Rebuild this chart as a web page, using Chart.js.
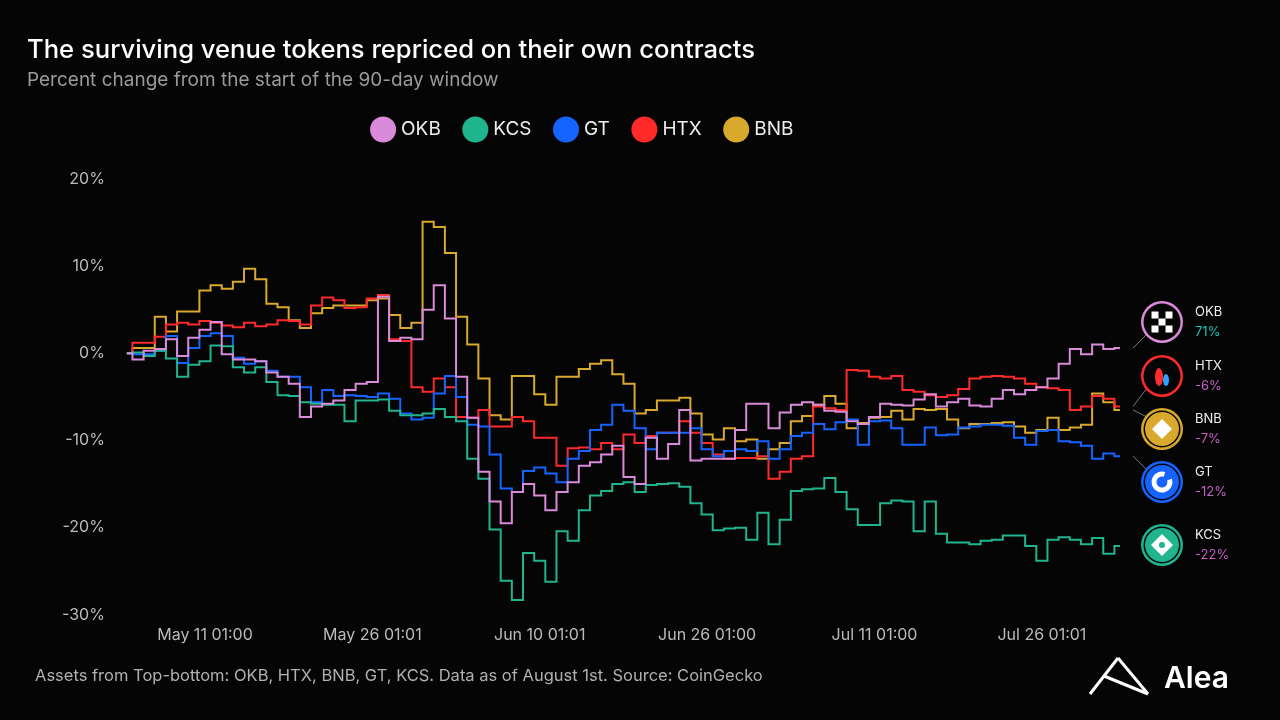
<!DOCTYPE html>
<html>
<head>
<meta charset="utf-8">
<script src="https://cdn.jsdelivr.net/npm/chart.js@4"></script>
<style>
  body { margin: 0; background: #050505; }
  #wrap { width: 1280px; height: 720px; }
</style>
</head>
<body>
<div id="wrap"><canvas id="myChart" width="1280" height="720"></canvas></div>
<script>
// daily points, day 0 ~ May 3
const tickLabels = { 7: 'May 11 01:00', 22: 'May 26 01:01', 37: 'Jun 10 01:01', 52: 'Jun 26 01:00', 67: 'Jul 11 01:00', 82: 'Jul 26 01:01' };
const yTicks = [20, 10, 0, -10, -20, -30];

const okb = [0,-0.7,0.3,0.5,1.6,-0.3,1.8,2.7,3.6,-0.1,-0.7,-0.7,-0.9,-2.2,-2.7,-3.5,-7.3,-6.1,-5.8,-5.4,-4.2,-3.5,-3.3,6.5,1.4,1.8,1.6,5.0,7.8,4.0,-2.7,-7.4,-13.6,-17.0,-19.5,-15.9,-15.0,-16.3,-18.0,
  -15.9,-14.8,-12.9,-12.5,-11.6,-10.6,-14.2,-15.0,-9.7,-12.1,-10.4,-6.5,-12.3,-12.1,-12.1,-12.1,-8.8,-5.8,-5.8,-8.6,-6.8,-5.9,-5.6,-5.9,-6.6,-6.7,-7.8,-8.1,-7.3,-5.8,-5.9,-6.0,-5.3,-4.7,-6.1,-5.6,-5.2,-6.0,-6.1,-5.2,-4.2,-4.7,-4.2,-3.9,-2.9,-1.2,0.5,-0.1,1.0,0.5,0.6];
const kcs = [0,0.1,-0.3,0.3,-0.6,-2.7,-1.3,-0.9,0.9,0.8,-1.6,-2.2,-1.6,-3.3,-4.8,-4.9,-5.6,-5.8,-5.9,-5.9,-7.8,-5.4,-5.4,-5.3,-6.6,-7.1,-7.1,-6.9,-6.4,-7.3,-7.8,-12.1,-14.4,-20.2,-26.1,-28.3,-22.9,-23.8,-26.2,
  -20.4,-21.5,-18.0,-16.3,-15.8,-15.0,-14.8,-15.9,-15.1,-15.0,-14.9,-15.3,-17.2,-18.5,-20.3,-20.1,-20.0,-21.4,-18.3,-21.9,-19.1,-15.8,-15.6,-15.5,-14.3,-15.9,-17.9,-19.7,-19.7,-17.2,-16.9,-17.0,-20.4,-17.0,-20.7,-21.7,-21.7,-21.9,-21.5,-21.4,-20.9,-20.9,-22.1,-23.8,-21.4,-21.1,-21.4,-21.9,-21.2,-23.0,-22.1];
const gt = [0,-0.1,-0.1,0.3,2.0,-1.1,0.6,2.0,2.3,2.0,-0.5,-1.2,-0.9,-2.0,-2.7,-2.7,-3.9,-5.6,-4.2,-4.9,-4.8,-4.9,-5.0,-4.6,-5.2,-6.9,-7.6,-7.4,-4.6,-2.6,-5.0,-8.2,-8.4,-11.6,-15.5,-15.9,-13.5,-13.1,-13.8,
  -14.8,-12.1,-11.2,-8.8,-8.2,-5.9,-6.6,-8.6,-11.0,-9.1,-9.1,-9.1,-8.6,-11.0,-11.8,-11.2,-11.0,-11.2,-10.1,-12.1,-11.0,-9.5,-9.1,-8.1,-8.7,-7.9,-7.6,-10.5,-7.8,-7.7,-8.6,-10.5,-10.5,-8.5,-9.4,-9.3,-8.5,-8.4,-8.2,-8.2,-8.3,-9.7,-10.5,-8.9,-8.8,-10.1,-10.2,-10.6,-12.1,-11.5,-11.8];
const htx = [0,1.2,1.2,1.9,3.3,3.5,3.3,3.7,3.5,3.2,3.0,3.5,3.1,3.3,3.8,3.7,3.3,5.5,6.4,6.1,5.2,5.3,6.3,6.7,1.6,1.4,-3.9,-4.4,-2.9,-3.9,-7.3,-7.4,-6.5,-8.4,-8.4,-7.3,-7.8,-9.7,-9.7,
  -12.9,-10.9,-10.8,-11.0,-10.3,-11.0,-9.3,-10.3,-9.5,-9.1,-9.1,-7.8,-9.1,-10.3,-11.6,-12.1,-12.0,-12.0,-11.8,-14.4,-13.6,-12.1,-11.8,-6.1,-6.3,-6.5,-1.9,-2.0,-2.7,-2.9,-2.6,-4.2,-4.4,-4.8,-5.0,-4.8,-4.1,-2.9,-2.7,-2.6,-2.7,-2.9,-3.5,-3.9,-4.0,-4.2,-6.5,-6.1,-4.9,-5.2,-6.1];
const bnb = [0,0.6,0.6,4.2,2.5,4.8,4.8,7.2,7.8,7.4,8.2,9.7,8.5,5.7,5.3,3.8,2.9,4.6,5.2,5.5,5.5,5.5,6.1,6.3,4.4,2.9,3.5,15.1,14.5,11.5,4.2,1.0,-2.9,-7.1,-7.6,-2.6,-2.6,-4.7,-5.9,
  -2.7,-2.7,-1.8,-1.2,-0.8,-2.4,-3.5,-6.9,-6.5,-5.4,-5.4,-5.1,-6.9,-9.3,-9.9,-8.6,-10.1,-9.9,-12.1,-11.0,-10.3,-7.8,-7.2,-5.9,-4.9,-5.8,-8.6,-8.0,-7.4,-7.3,-6.6,-7.6,-6.4,-6.5,-6.4,-7.6,-8.6,-8.1,-8.1,-8.0,-7.9,-8.4,-9.1,-8.8,-7.4,-8.8,-8.5,-8.2,-4.6,-5.6,-6.5];

const labels = okb.map((v, i) => tickLabels[i] || '');

// right-hand badges, top to bottom
const badges = [
  { name: 'OKB', value: '71%', key: 0, color: '#d98ad9', valColor: '#19c3b8', y: 322 },
  { name: 'HTX', value: '-6%', key: 3, color: '#ff2a2a', valColor: '#c660c6', y: 376 },
  { name: 'BNB', value: '-7%', key: 4, color: '#d9a92e', valColor: '#c660c6', y: 429 },
  { name: 'GT', value: '-12%', key: 2, color: '#1664ff', valColor: '#c660c6', y: 482 },
  { name: 'KCS', value: '-22%', key: 1, color: '#20b48f', valColor: '#c660c6', y: 545 }
];

const ds = (label, data, color) => ({
  label, data, borderColor: color, backgroundColor: color,
  borderWidth: 2, pointRadius: 0, stepped: 'middle', tension: 0
});

// extra space under the legend
const legendGap = {
  id: 'legendGap',
  beforeInit(chart) {
    const fit = chart.legend.fit;
    chart.legend.fit = function () { fit.call(this); this.height += 30; };
  }
};

const decor = {
  id: 'decor',
  afterDraw(chart) {
    const c = chart.ctx;
    c.save();
    c.textBaseline = 'alphabetic';
    c.fillStyle = '#ffffff';
    c.font = '500 25.6px Inter';
    c.fillText('The surviving venue tokens repriced on their own contracts', 27, 58);
    c.fillStyle = '#9a9a9a';
    c.font = '19px Inter';
    c.fillText('Percent change from the start of the 90-day window', 27, 86);
    c.fillStyle = '#b0b0b0';
    c.font = '16.5px Inter';
    c.fillText('Assets from Top-bottom: OKB, HTX, BNB, GT, KCS. Data as of August 1st. Source: CoinGecko', 35, 681);
    // logo
    c.strokeStyle = '#fff';
    c.lineWidth = 3;
    c.beginPath();
    c.moveTo(1090, 694); c.lineTo(1118, 658);
    c.moveTo(1104, 676); c.lineTo(1148, 694);
    c.moveTo(1118, 658); c.lineTo(1148, 694);
    c.stroke();
    c.fillStyle = '#fff';
    c.font = '600 30px Inter';
    c.fillText('Alea', 1164, 688);
    // badges
    const last = okb.length - 1;
    const ys = chart.scales.y;
    badges.forEach(b => {
      const cx = 1162, cy = b.y;
      const ly = ys.getPixelForValue(chart.data.datasets[b.key].data[last]);
      if (b.name !== 'KCS') {
        c.strokeStyle = '#777';
        c.lineWidth = 1;
        c.beginPath();
        c.moveTo(1133, ly);
        c.lineTo(1147, cy + (ly < cy ? -12 : 12));
        c.stroke();
      }
      c.beginPath();
      c.arc(cx, cy, 21, 0, Math.PI * 2);
      c.fillStyle = b.color; c.fill();
      c.beginPath();
      c.arc(cx, cy, 18.5, 0, Math.PI * 2);
      c.fillStyle = '#050505'; c.fill();
      c.beginPath();
      c.arc(cx, cy, 17, 0, Math.PI * 2);
      c.fillStyle = b.name === 'OKB' || b.name === 'HTX' ? '#050505' : b.color; c.fill();
      c.fillStyle = '#fff';
      if (b.name === 'OKB') {
        const s = 7;
        [[-1.5,-1.5],[0.5,-1.5],[-0.5,-0.5],[-1.5,0.5],[0.5,0.5]].forEach(p => c.fillRect(cx + p[0]*s, cy + p[1]*s, s, s));
      } else if (b.name === 'HTX') {
        c.fillStyle = '#ff2a2a';
        c.beginPath(); c.ellipse(cx - 3, cy + 1, 4, 9, 0, 0, Math.PI * 2); c.fill();
        c.fillStyle = '#33a0ff';
        c.beginPath(); c.ellipse(cx + 4, cy + 4, 3, 6, 0, 0, Math.PI * 2); c.fill();
      } else if (b.name === 'BNB') {
        c.beginPath(); c.moveTo(cx, cy - 10); c.lineTo(cx + 10, cy); c.lineTo(cx, cy + 10); c.lineTo(cx - 10, cy); c.closePath(); c.fill();
      } else if (b.name === 'GT') {
        c.strokeStyle = '#fff'; c.lineWidth = 5;
        c.beginPath(); c.arc(cx, cy, 8, -Math.PI * 0.1, Math.PI * 1.6); c.stroke();
      } else {
        c.beginPath(); c.moveTo(cx, cy - 11); c.lineTo(cx + 11, cy); c.lineTo(cx, cy + 11); c.lineTo(cx - 11, cy); c.closePath(); c.fill();
        c.fillStyle = b.color; c.beginPath(); c.arc(cx, cy, 3, 0, Math.PI * 2); c.fill();
      }
      c.fillStyle = '#eeeeee';
      c.font = '13px Inter';
      c.fillText(b.name, 1195, cy - 6);
      c.fillStyle = b.valColor;
      c.fillText(b.value, 1195, cy + 14);
    });
    c.restore();
  }
};

let ctx = document.getElementById('myChart').getContext('2d');
let chart = new Chart(ctx, {
  type: 'line',
  data: {
    labels: labels,
    datasets: [
      ds('OKB', okb, '#d98ad9'),
      ds('KCS', kcs, '#20b48f'),
      ds('GT', gt, '#1664ff'),
      ds('HTX', htx, '#ff2a2a'),
      ds('BNB', bnb, '#d9a92e')
    ]
  },
  options: {
    responsive: false,
    devicePixelRatio: 1,
    animation: false,
    layout: { padding: { top: 94, left: 48, right: 160, bottom: 72 } },
    plugins: {
      legend: {
        position: 'top',
        labels: {
          color: '#eeeeee', font: { family: 'Inter', size: 19 },
          usePointStyle: true, pointStyle: 'circle', boxWidth: 17, boxHeight: 17, padding: 26
        }
      },
      tooltip: { enabled: false }
    },
    scales: {
      x: {
        grid: { display: false }, border: { display: false },
        ticks: { autoSkip: false, maxRotation: 0, color: '#bbbbbb', font: { family: 'Inter', size: 16 } }
      },
      y: {
        min: -30, max: 20,
        grid: { display: false }, border: { display: false },
        afterBuildTicks: s => { s.ticks = yTicks.map(v => ({ value: v })); },
        ticks: { color: '#bbbbbb', padding: 14, font: { family: 'Inter', size: 16 }, callback: v => v + '%' }
      }
    }
  },
  plugins: [decor, legendGap]
});
</script>
</body>
</html>
